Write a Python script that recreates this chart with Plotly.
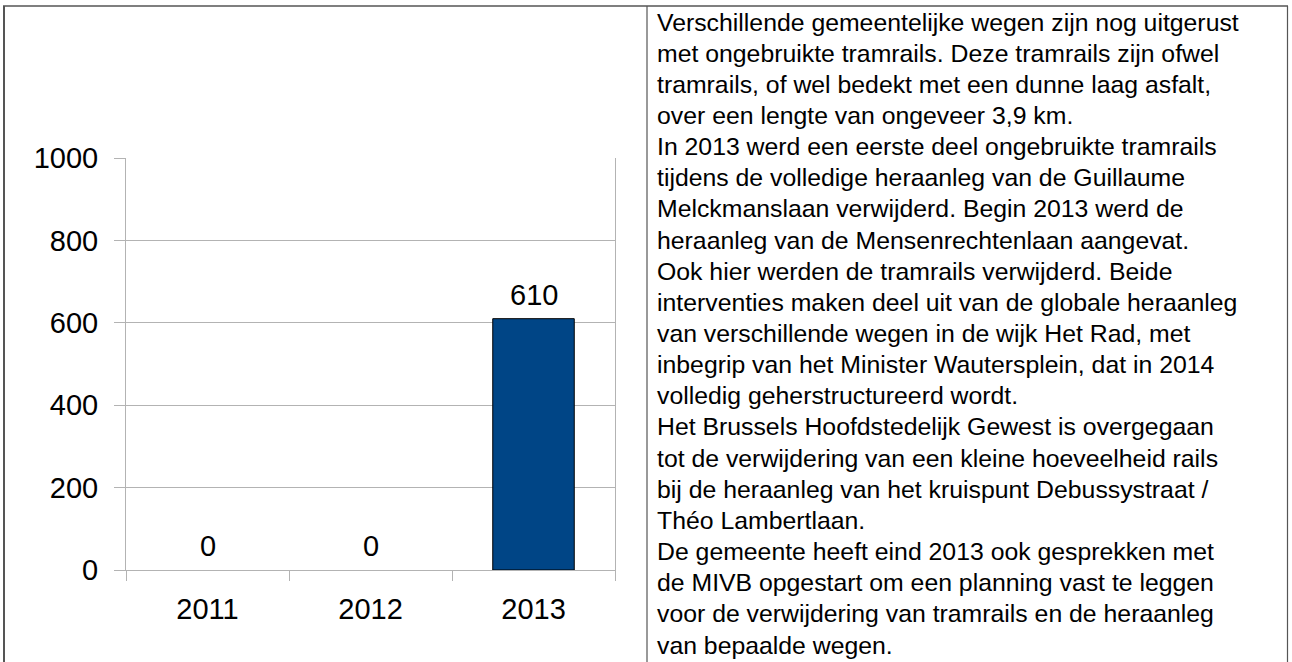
import plotly.graph_objects as go

# Removed tram rails per year (metres)
years = ["2011", "2012", "2013"]
removed_m = [0, 0, 610]

y_ticks = [0, 200, 400, 600, 800, 1000]

text_lines = [
    "Verschillende gemeentelijke wegen zijn nog uitgerust",
    "met ongebruikte tramrails. Deze tramrails zijn ofwel",
    "tramrails, of wel bedekt met een dunne laag asfalt,",
    "over een lengte van ongeveer 3,9 km.",
    "In 2013 werd een eerste deel ongebruikte tramrails",
    "tijdens de volledige heraanleg van de Guillaume",
    "Melckmanslaan verwijderd. Begin 2013 werd de",
    "heraanleg van de Mensenrechtenlaan aangevat.",
    "Ook hier werden de tramrails verwijderd. Beide",
    "interventies maken deel uit van de globale heraanleg",
    "van verschillende wegen in de wijk Het Rad, met",
    "inbegrip van het Minister Wautersplein, dat in 2014",
    "volledig geherstructureerd wordt.",
    "Het Brussels Hoofdstedelijk Gewest is overgegaan",
    "tot de verwijdering van een kleine hoeveelheid rails",
    "bij de heraanleg van het kruispunt Debussystraat /",
    "Théo Lambertlaan.",
    "De gemeente heeft eind 2013 ook gesprekken met",
    "de MIVB opgestart om een planning vast te leggen",
    "voor de verwijdering van tramrails en de heraanleg",
    "van bepaalde wegen.",
]

W, H = 1292, 662
FONT = "Liberation Sans, Arial, sans-serif"
GRID = "#b3b3b3"
BORDER = "#555555"


def px(x):
    return x / W


def py(y):
    return 1 - y / H


fig = go.Figure()
fig.add_trace(go.Bar(
    x=years,
    y=removed_m,
    width=0.5,
    marker=dict(
        color="#004586",
        # no outline on empty bars so the baseline stays grey
        line=dict(color="#000000", width=[1 if v else 0 for v in removed_m]),
    ),
    hoverinfo="skip",
))

annotations = []
# value labels above each bar (category index as x position)
for i, v in enumerate(removed_m):
    annotations.append(dict(
        x=i, y=v, xref="x", yref="y", text=str(v), showarrow=False,
        yanchor="bottom", yshift=6,
        font=dict(family=FONT, size=29, color="#000000"),
    ))

# explanatory text in the right-hand cell
line_top = 22
line_step = 31.15
for i, line in enumerate(text_lines):
    annotations.append(dict(
        x=px(655), y=py(line_top + i * line_step), xref="paper", yref="paper",
        text=line, showarrow=False, xanchor="left", yanchor="middle",
        font=dict(family=FONT, size=24.8, color="#000000"),
    ))

shapes = [
    # table borders
    dict(type="line", xref="paper", yref="paper", x0=px(3), x1=px(1288), y0=py(6), y1=py(6),
         line=dict(color=BORDER, width=1.5)),
    dict(type="line", xref="paper", yref="paper", x0=px(4), x1=px(4), y0=py(6), y1=0,
         line=dict(color=BORDER, width=2)),
    dict(type="line", xref="paper", yref="paper", x0=px(647), x1=px(647), y0=py(6), y1=0,
         line=dict(color=BORDER, width=1.2)),
    dict(type="line", xref="paper", yref="paper", x0=px(1287.5), x1=px(1287.5), y0=py(6), y1=0,
         line=dict(color=BORDER, width=1.2)),
]

fig.update_layout(
    width=W, height=H, autosize=False,
    margin=dict(l=0, r=0, t=0, b=0, pad=0, autoexpand=False),
    paper_bgcolor="white", plot_bgcolor="white",
    showlegend=False,
    annotations=annotations,
    shapes=shapes,
    font=dict(family=FONT, color="#000000"),
    xaxis=dict(
        domain=[px(126), px(615)],
        type="category",
        categoryorder="array", categoryarray=years,
        range=[-0.5, len(years) - 0.5],
        tickson="boundaries",
        ticks="outside", ticklen=10, tickcolor=GRID, tickwidth=1,
        showline=True, linecolor=GRID, linewidth=1,
        showgrid=False, zeroline=False,
        tickangle=0,
        tickfont=dict(family=FONT, size=29, color="#000000"),
        ticklabelstandoff=13,
        automargin=False,
    ),
    yaxis=dict(
        domain=[py(570), py(158)],
        range=[0, 1000],
        tickvals=y_ticks,
        ticks="outside", ticklen=11, tickcolor=GRID, tickwidth=1,
        showline=True, linecolor=GRID, linewidth=1, mirror=True,
        showgrid=True, gridcolor=GRID, gridwidth=1,
        zeroline=False,
        tickfont=dict(family=FONT, size=29, color="#000000"),
        ticklabelstandoff=10,
        automargin=False,
    ),
)

fig.write_html("out.html")
